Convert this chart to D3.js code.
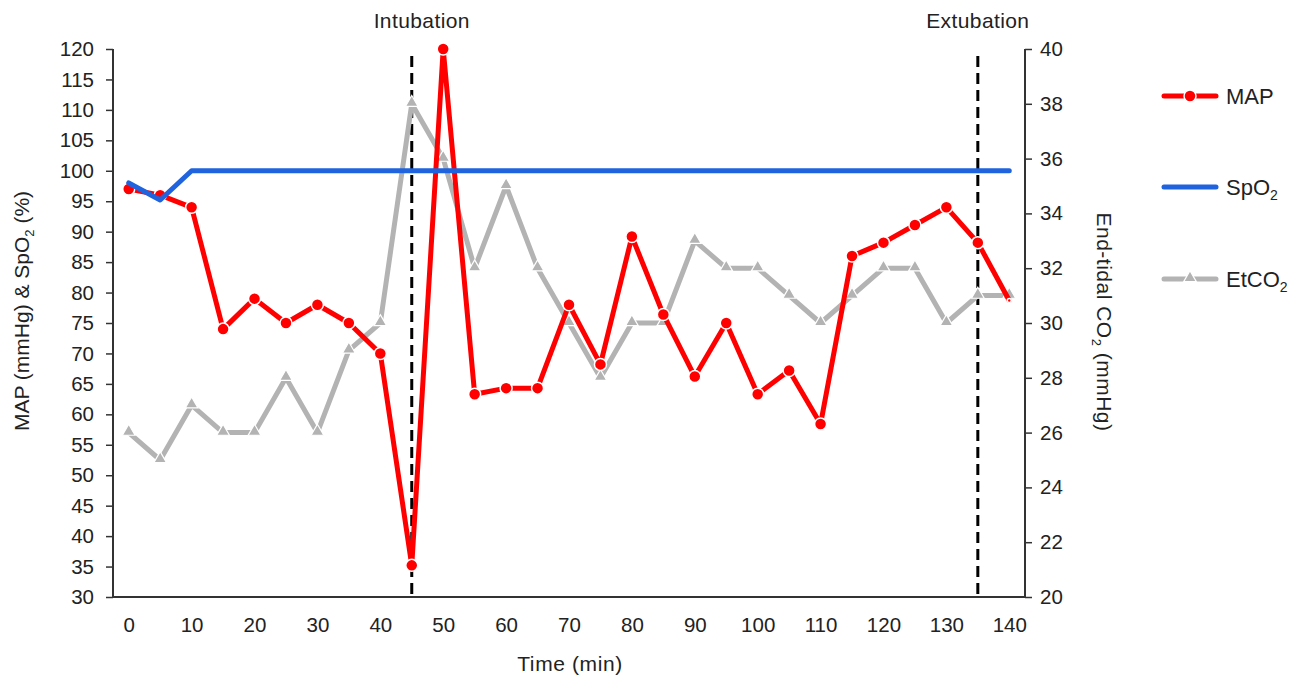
<!DOCTYPE html>
<html>
<head>
<meta charset="utf-8">
<script src="https://cdn.jsdelivr.net/npm/d3@7"></script>
<style>
  body { margin: 0; background: #fff; }
  text { font-family: "Liberation Sans", Arial, sans-serif; fill: #222; }
</style>
</head>
<body>
<svg id="chart" width="1301" height="678"></svg>
<script>
// data
const times = [0,5,10,15,20,25,30,35,40,45,50,55,60,65,70,75,80,85,90,95,100,105,110,115,120,125,130,135,140];
const mapValues = [97,96,94,74,79,75,78,75,70,35.2,120,63.3,64.3,64.3,78,68.2,89.2,76.4,66.2,75,63.3,67.2,58.4,86,88.2,91.1,94,88.2,78.7];
const spo2Values = [98,95.2,100,100,100,100,100,100,100,100,100,100,100,100,100,100,100,100,100,100,100,100,100,100,100,100,100,100,100];
const etco2Values = [26,25,27,26,26,28,26,29,30,38,36,32,35,32,30,28,30,30,33,32,32,31,30,31,32,32,30,31,31];
const xTicks = [0,10,20,30,40,50,60,70,80,90,100,110,120,130,140];
const leftTicks = d3.range(30, 121, 5);
const rightTicks = d3.range(20, 41, 2);
const events = [{t: 45, label: "Intubation", dx: 10}, {t: 135, label: "Extubation", dx: 0}];

const plotLeft = 113, plotRight = 1025, plotTop = 49, plotBottom = 597;

const svg = d3.select("#chart");

const xScale = d3.scaleLinear().domain([-2.5, 142.5]).range([plotLeft, plotRight]);
const yLeft = d3.scaleLinear().domain([30, 120]).range([plotBottom, plotTop]);
const yRight = d3.scaleLinear().domain([20, 40]).range([plotBottom, plotTop]);

// axes
const xAxis = d3.axisBottom(xScale).tickValues(xTicks).tickSize(0).tickPadding(20);
const leftAxis = d3.axisLeft(yLeft).tickValues(leftTicks).tickSize(7).tickPadding(12);
const rightAxis = d3.axisRight(yRight).tickValues(rightTicks).tickSize(7).tickPadding(8);

function styleAxis(g) {
  g.select(".domain").attr("stroke", "#333").attr("stroke-width", 2);
  g.selectAll(".tick line").attr("stroke", "#333").attr("stroke-width", 1.5);
  g.selectAll(".tick text").attr("font-size", 20.5).attr("fill", "#222")
    .attr("font-family", "Liberation Sans, Arial, sans-serif");
}

svg.append("g").attr("transform", `translate(0, ${plotBottom})`).call(xAxis).call(styleAxis)
  .call(g => g.select(".domain").attr("d", `M${plotLeft},0H${plotRight}`));
svg.append("g").attr("transform", `translate(${plotLeft}, 0)`).call(leftAxis).call(styleAxis)
  .call(g => g.select(".domain").attr("d", `M0,${plotTop}V${plotBottom}`));
svg.append("g").attr("transform", `translate(${plotRight}, 0)`).call(rightAxis).call(styleAxis)
  .call(g => g.select(".domain").attr("d", `M0,${plotTop}V${plotBottom}`));

// axis titles
svg.append("text").attr("x", 570).attr("y", 671)
  .attr("text-anchor", "middle").attr("font-size", 21).attr("letter-spacing", 0.6).text("Time (min)");

const lt = svg.append("text").attr("transform", `translate(29, 311) rotate(-90)`)
  .attr("text-anchor", "middle").attr("font-size", 21);
lt.append("tspan").text("MAP (mmHg) & SpO");
lt.append("tspan").attr("font-size", 13).attr("dy", 5).text("2");
lt.append("tspan").attr("dy", -5).text(" (%)");

const rt = svg.append("text").attr("transform", `translate(1097, 322) rotate(90)`)
  .attr("text-anchor", "middle").attr("font-size", 21).attr("letter-spacing", 0.5);
rt.append("tspan").text("End-tidal CO");
rt.append("tspan").attr("font-size", 13).attr("dy", 5).text("2");
rt.append("tspan").attr("dy", -5).text(" (mmHg)");

// event lines
events.forEach(e => {
  svg.append("line")
    .attr("x1", xScale(e.t)).attr("x2", xScale(e.t))
    .attr("y1", 56).attr("y2", plotBottom)
    .attr("stroke", "#000").attr("stroke-width", 3)
    .attr("stroke-dasharray", "11,6");
  svg.append("text").attr("x", xScale(e.t) + e.dx).attr("y", 28)
    .attr("text-anchor", "middle").attr("font-size", 21).attr("letter-spacing", 0.4).text(e.label);
});

// series
const lineLeft = vals => d3.line().x((d, i) => xScale(times[i])).y(d => yLeft(d))(vals);
const lineRight = vals => d3.line().x((d, i) => xScale(times[i])).y(d => yRight(d))(vals);

svg.append("path").attr("d", lineRight(etco2Values))
  .attr("fill", "none").attr("stroke", "#b3b3b3").attr("stroke-width", 5)
  .attr("stroke-linejoin", "round").attr("stroke-linecap", "round");
const tri = d3.symbol().type(d3.symbolTriangle).size(70);
svg.append("g").selectAll("path").data(etco2Values).enter().append("path")
  .attr("d", tri)
  .attr("transform", (d, i) => `translate(${xScale(times[i])}, ${yRight(d) - 1})`)
  .attr("fill", "#b3b3b3").attr("stroke", "#fff").attr("stroke-width", 1.2);

svg.append("path").attr("d", lineLeft(mapValues))
  .attr("fill", "none").attr("stroke", "#ff0000").attr("stroke-width", 5)
  .attr("stroke-linejoin", "round").attr("stroke-linecap", "round");
svg.append("g").selectAll("circle").data(mapValues).enter().append("circle")
  .attr("cx", (d, i) => xScale(times[i]))
  .attr("cy", d => yLeft(d))
  .attr("r", (d, i) => i === mapValues.length - 1 ? 2 : 6)
  .attr("fill", "#ff0000").attr("stroke", "#fff").attr("stroke-width", 1.5);

svg.append("path").attr("d", lineLeft(spo2Values))
  .attr("fill", "none").attr("stroke", "#1f63de").attr("stroke-width", 5)
  .attr("stroke-linejoin", "round").attr("stroke-linecap", "round");

// legend
const legend = [
  {name: "MAP", color: "#ff0000", y: 96, marker: "circle"},
  {name: "SpO", sub: "2", color: "#1f63de", y: 187, marker: null},
  {name: "EtCO", sub: "2", color: "#b3b3b3", y: 279, marker: "triangle"}
];
legend.forEach(l => {
  svg.append("line").attr("x1", 1164).attr("x2", 1216).attr("y1", l.y).attr("y2", l.y)
    .attr("stroke", l.color).attr("stroke-width", 5).attr("stroke-linecap", "round");
  if (l.marker === "circle") {
    svg.append("circle").attr("cx", 1190).attr("cy", l.y).attr("r", 6)
      .attr("fill", l.color).attr("stroke", "#fff").attr("stroke-width", 1.5);
  } else if (l.marker === "triangle") {
    svg.append("path").attr("d", tri).attr("transform", `translate(1190, ${l.y - 1})`)
      .attr("fill", l.color).attr("stroke", "#fff").attr("stroke-width", 1.2);
  }
  const t = svg.append("text").attr("x", 1226).attr("y", l.y + 8).attr("font-size", 22);
  t.append("tspan").text(l.name);
  if (l.sub) t.append("tspan").attr("font-size", 14).attr("dy", 5).text(l.sub);
});
</script>
</body>
</html>
